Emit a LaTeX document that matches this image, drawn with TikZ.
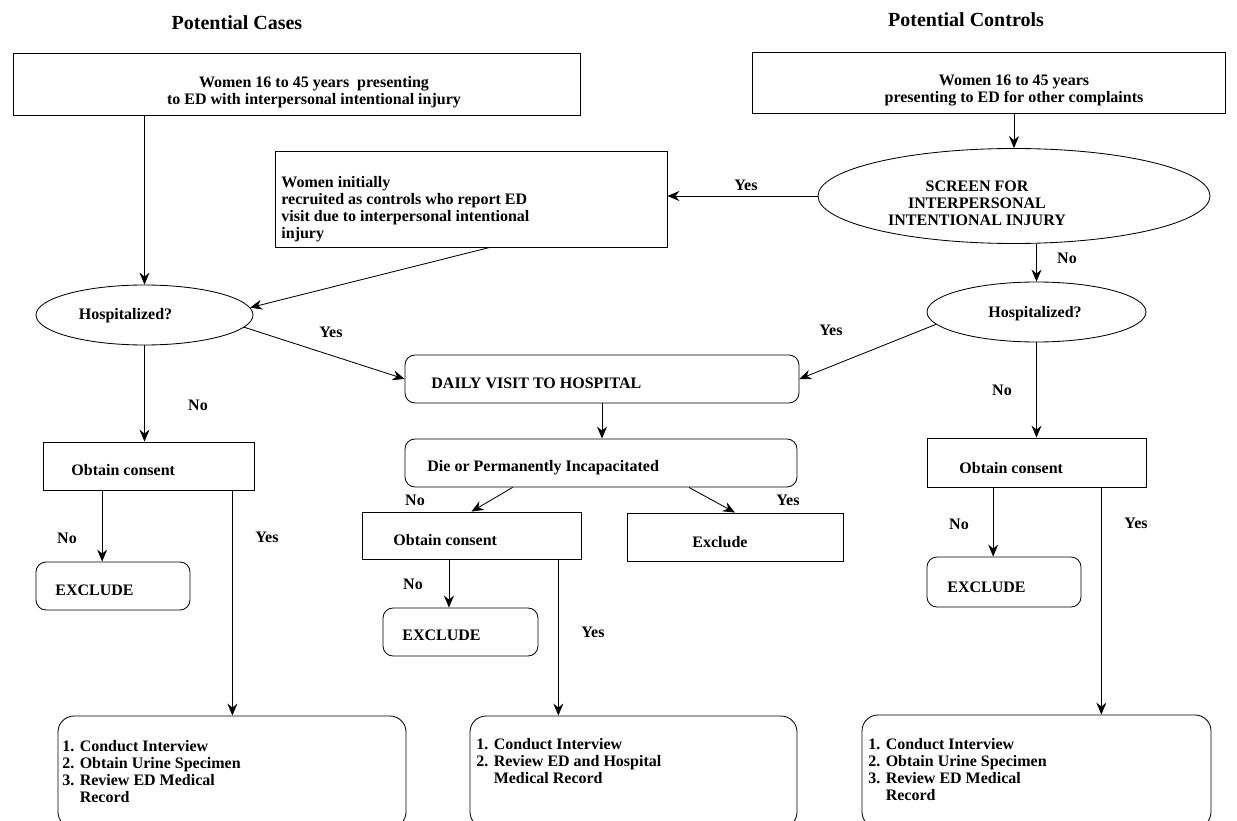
\documentclass[tikz,border=0pt]{standalone}
\usepackage{fontspec}
\setmainfont{Liberation Serif}
\usetikzlibrary{shapes.geometric,arrows.meta,calc}
\begin{document}
\begin{tikzpicture}[x=1pt,y=-1pt,line width=0.85pt,
  every node/.style={font=\fontsize{16}{17}\selectfont\bfseries},
  arr/.style={-{Stealth[length=12pt,width=10pt,inset=4pt]}},
  box/.style={draw,rectangle,inner sep=0pt},
  rbox/.style={draw,rectangle,inner sep=0pt,rounded corners=10pt},
  fbox/.style={draw,rectangle,inner sep=0pt,rounded corners=16pt},
  ell/.style={draw,ellipse,inner sep=0pt},
  lbl/.style={inner sep=0pt},
  txt/.style={inner sep=0pt,align=left,anchor=west},
  ctxt/.style={inner sep=0pt,align=center},
  ttl/.style={inner sep=0pt,font=\fontsize{20}{24}\selectfont\bfseries}]
\useasboundingbox (0,0) rectangle (1237,821);

% titles
\node[ttl] (tc) at (237,23) {Potential Cases};
\node[ttl] (tr) at (966,20) {Potential Controls};

% shapes
\node[box,minimum width=567pt,minimum height=62pt] (B1) at (296.5,84) {};
\node[box,minimum width=473pt,minimum height=61pt] (B2) at (988.5,82.5) {};
\node[box,minimum width=392pt,minimum height=96pt] (M) at (471,199) {};
\node[ell,minimum width=392pt,minimum height=95pt] (S) at (1014,196) {};
\node[ell,minimum width=217pt,minimum height=60pt] (H1) at (144.5,315) {};
\node[ell,minimum width=219pt,minimum height=60pt] (H2) at (1036.5,312) {};
\node[rbox,minimum width=394pt,minimum height=48pt] (D) at (602,379) {};
\node[rbox,minimum width=392pt,minimum height=48pt] (P) at (601,463) {};
\node[box,minimum width=211pt,minimum height=48pt] (O1) at (148.5,466) {};
\node[rbox,minimum width=154pt,minimum height=48pt] (E1) at (113,586) {};
\node[fbox,minimum width=348pt,minimum height=112pt] (F1) at (232,772) {};
\node[box,minimum width=219pt,minimum height=47pt] (O2) at (471.5,535.5) {};
\node[rbox,minimum width=155pt,minimum height=48pt] (E2) at (460.5,632) {};
\node[box,minimum width=216pt,minimum height=48pt] (X) at (735,537) {};
\node[fbox,minimum width=327pt,minimum height=112pt] (F2) at (633.5,772) {};
\node[box,minimum width=219pt,minimum height=49pt] (O3) at (1036.5,462.5) {};
\node[rbox,minimum width=154pt,minimum height=50pt] (E3) at (1004,582) {};
\node[fbox,minimum width=349pt,minimum height=113pt] (F3) at (1036.5,771.5) {};

% texts
\node[ctxt] (tB1) at (314,92.5) {Women 16 to 45 years\ \ presenting\\to ED with interpersonal intentional injury};
\node[ctxt] (tB2) at (1014,90) {Women 16 to 45 years\\presenting to ED for other complaints};
\node[txt] (tM) at (281,209.5) {Women initially\\recruited as controls who report ED\\visit due to interpersonal intentional\\injury};
\node[ctxt] (tS) at (977,203) {SCREEN FOR\\INTERPERSONAL\\INTENTIONAL INJURY};
\node[lbl] (tH1) at (125.5,316) {Hospitalized?};
\node[lbl] (tH2) at (1035,314) {Hospitalized?};
\node[txt] (tD) at (431,383) {DAILY VISIT TO HOSPITAL};
\node[txt] (tP) at (427,468) {Die or Permanently Incapacitated};
\node[txt] (tO1) at (71,470) {Obtain consent};
\node[txt] (tE1) at (55,590) {EXCLUDE};
\node[txt] (tF1) at (62,772) {1. Conduct Interview\\2. Obtain Urine Specimen\\3. Review ED Medical\\\phantom{3. }Record};
\node[txt] (tO2) at (393,540) {Obtain consent};
\node[txt] (tE2) at (402,635) {EXCLUDE};
\node[lbl] (tX) at (720,542) {Exclude};
\node[txt] (tF2) at (476,761) {1. Conduct Interview\\2. Review ED and Hospital\\\phantom{2. }Medical Record};
\node[txt] (tO3) at (959,468) {Obtain consent};
\node[txt] (tE3) at (947,587) {EXCLUDE};
\node[txt] (tF3) at (868,770) {1. Conduct Interview\\2. Obtain Urine Specimen\\3. Review ED Medical\\\phantom{3. }Record};

% connectors
\draw[arr] (H1.north |- B1.south) -- (H1.north);
\draw[arr] (S.north |- B2.south) -- (S.north);
\draw[arr] (S.west) -- (S.west -| M.east);
\draw[arr] ($(M.south west)!0.548!(M.south east)$) -- (H1.4);
\draw[arr] (H1.-7) -- (D.west);
\draw[arr] (H2.north |- S.south) -- (H2.north);
\draw[arr] (H2.187) -- (D.east);
\draw[arr] (H1.south) -- (H1.south |- O1.north);
\draw[arr] (D.south) -- (D.south |- P.north);
\draw[arr] ($(P.south west)!0.275!(P.south east)$) -- (O2.north);
\draw[arr] ($(P.south west)!0.724!(P.south east)$) -- (X.north);
\draw[arr] (H2.south) -- (H2.south |- O3.north);

\path ($(E1.north west)!0.43!(E1.north east)$) coordinate (e1t);
\draw[arr] (e1t |- O1.south) -- (e1t);
\path ($(O1.south west)!0.896!(O1.south east)$) coordinate (o1y);
\draw[arr] (o1y) -- (o1y |- F1.north);

\path ($(E2.north west)!0.426!(E2.north east)$) coordinate (e2t);
\draw[arr] (e2t |- O2.south) -- (e2t);
\path ($(O2.south west)!0.895!(O2.south east)$) coordinate (o2y);
\draw[arr] (o2y) -- (o2y |- F2.north);

\path ($(E3.north west)!0.43!(E3.north east)$) coordinate (e3t);
\draw[arr] (e3t |- O3.south) -- (e3t);
\path ($(O3.south west)!0.795!(O3.south east)$) coordinate (o3y);
\draw[arr] (o3y) -- (o3y |- F3.north);

% labels
\node[lbl] (l1) at (746,185) {Yes};
\node[lbl] (l2) at (1067,258) {No};
\node[lbl] (l3) at (331,332) {Yes};
\node[lbl] (l4) at (831,330) {Yes};
\node[lbl] (l5) at (198,405) {No};
\node[lbl] (l6) at (1002,390) {No};
\node[lbl] (l7) at (415,500) {No};
\node[lbl] (l8) at (788,500) {Yes};
\node[lbl] (l9) at (67,538) {No};
\node[lbl] (l10) at (267,537) {Yes};
\node[lbl] (l11) at (413,584) {No};
\node[lbl] (l12) at (593,632) {Yes};
\node[lbl] (l13) at (959,524) {No};
\node[lbl] (l14) at (1136,523) {Yes};
\end{tikzpicture}
\end{document}
